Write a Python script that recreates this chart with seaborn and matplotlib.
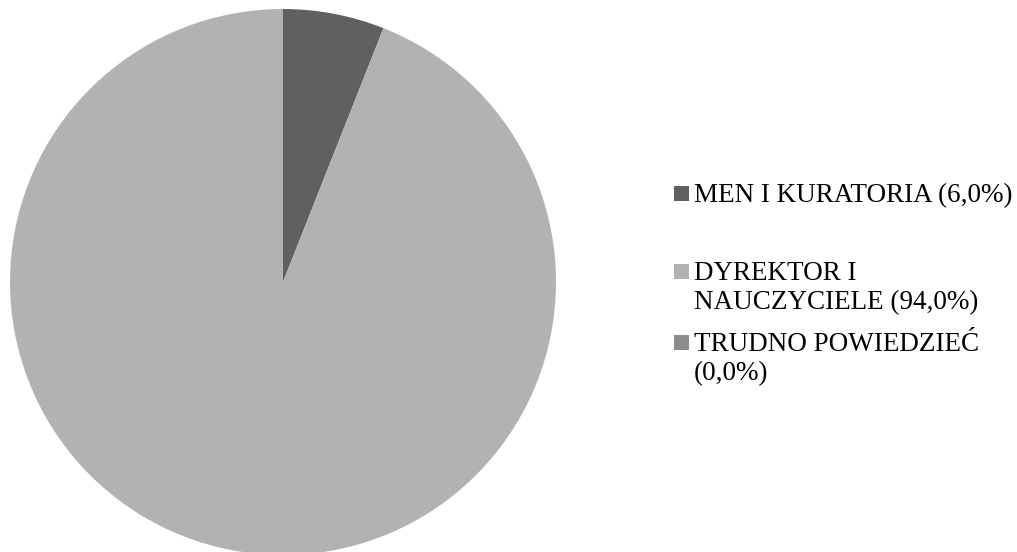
import matplotlib
matplotlib.use("Agg")
import matplotlib.pyplot as plt
from matplotlib.patches import Rectangle
import seaborn as sns

sns.set_theme(style="white")
plt.rcParams["font.family"] = ["Liberation Serif", "DejaVu Serif"]

categories = ["MEN I KURATORIA", "DYREKTOR I NAUCZYCIELE", "TRUDNO POWIEDZIEĆ"]
legend_text = ["MEN I KURATORIA (6,0%)", "DYREKTOR I\nNAUCZYCIELE (94,0%)", "TRUDNO POWIEDZIEĆ\n(0,0%)"]
shares = [6.0, 94.0, 0.0]
colors = ["#606060", "#b2b2b2", "#8c8c8c"]

W, H = 1017, 552
fig = plt.figure(figsize=(W / 100, H / 100), dpi=100)

# pie area: centre (283, 282) px, radius 273 px
cx, cy, r = 283, 282, 273
ax = fig.add_axes([(cx - r) / W, (H - cy - r) / H, 2 * r / W, 2 * r / H])
wedges, _ = ax.pie(shares, colors=colors, startangle=90, counterclock=False,
                   wedgeprops=dict(linewidth=0))
for w in wedges:
    w.set_clip_on(False)
ax.set_xlim(-1, 1)
ax.set_ylim(-1, 1)
ax.set_aspect("equal")
ax.axis("off")

# legend entries, keyed by the centre y (px) of each square
rows = [193, 271, 342]
sq = 15
for label, color, y in zip(legend_text, colors, rows):
    fig.patches.append(Rectangle((674 / W, (H - y - sq / 2) / H), sq / W, sq / H,
                                 transform=fig.transFigure, facecolor=color,
                                 edgecolor="none"))
    fig.text(694 / W, (H - y + 10) / H, label, fontsize=19.5, color="#000000",
             ha="left", va="top", linespacing=1.22)

fig.savefig("out.png", dpi=100, facecolor="white")
